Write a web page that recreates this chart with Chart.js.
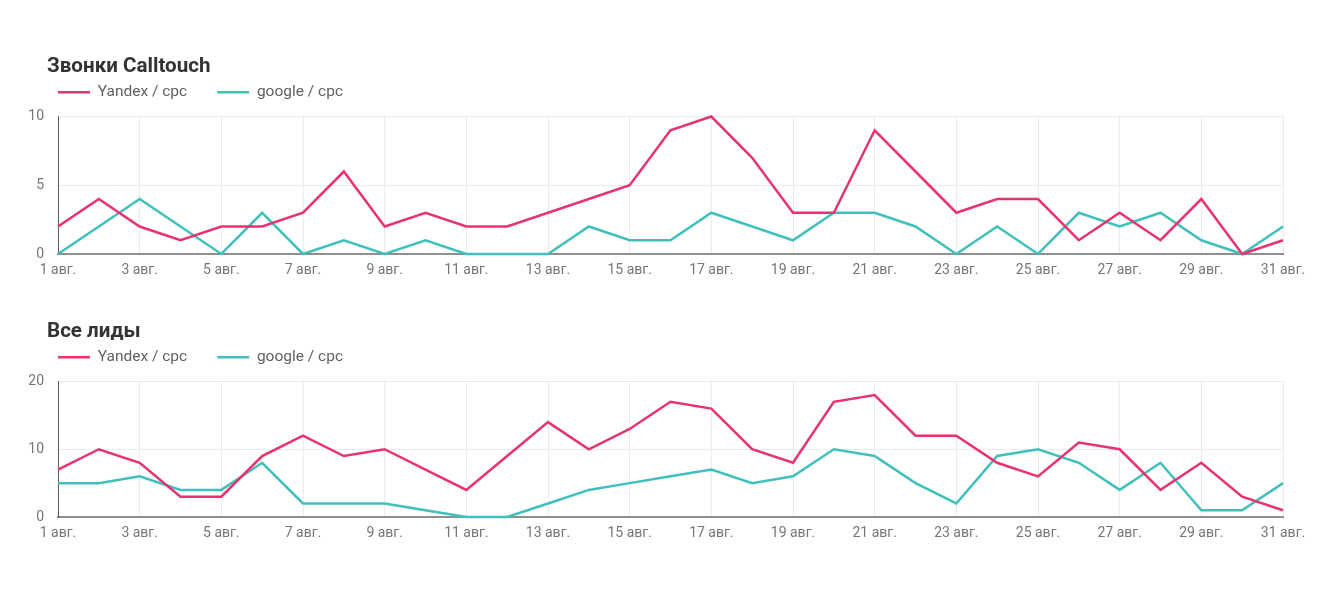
<!DOCTYPE html>
<html><head><meta charset="utf-8">
<script src="https://cdn.jsdelivr.net/npm/chart.js@4.4.0/dist/chart.umd.min.js"></script>
<style>
html,body{margin:0;padding:0;background:#fff;width:1338px;height:596px;overflow:hidden;font-family:Roboto,sans-serif}
.box{position:absolute;left:0;width:1338px}
.title{position:absolute;left:47px;font-family:Roboto;font-weight:bold;font-size:20.6px;line-height:20px;color:#333;white-space:nowrap}
</style></head><body>
<div class="box" style="top:0;height:290px"><canvas id="c1"></canvas></div>
<div class="title" style="top:55px">Звонки Calltouch</div>
<div class="box" style="top:265px;height:288px"><canvas id="c2"></canvas></div>
<div class="title" style="top:320px">Все лиды</div>
<script>
const days = ['1 авг.','2 авг.','3 авг.','4 авг.','5 авг.','6 авг.','7 авг.','8 авг.','9 авг.','10 авг.',
  '11 авг.','12 авг.','13 авг.','14 авг.','15 авг.','16 авг.','17 авг.','18 авг.','19 авг.','20 авг.',
  '21 авг.','22 авг.','23 авг.','24 авг.','25 авг.','26 авг.','27 авг.','28 авг.','29 авг.','30 авг.','31 авг.'];
const seriesNames = ['Yandex / cpc', 'google / cpc'];
const callsYandex = [2,4,2,1,2,2,3,6,2,3,2,2,3,4,5,9,10,7,3,3,9,6,3,4,4,1,3,1,4,0,1];
const callsGoogle = [0,2,4,2,0,3,0,1,0,1,0,0,0,2,1,1,3,2,1,3,3,2,0,2,0,3,2,3,1,0,2];
const leadsYandex = [7,10,8,3,3,9,12,9,10,7,4,9,14,10,13,17,16,10,8,17,18,12,12,8,6,11,10,4,8,3,1];
const leadsGoogle = [5,5,6,4,4,8,2,2,2,1,0,0,2,4,5,6,7,5,6,10,9,5,2,9,10,8,4,8,1,1,5];
const callsTicks = [0,5,10];
const leadsTicks = [0,10,20];

const PINK = '#e8336f', TEAL = '#40c0bc';
Chart.defaults.font.family = 'Roboto';

const legendGap = {
  id: 'legendGap',
  beforeInit(chart) {
    const fit = chart.legend.fit;
    chart.legend.fit = function () { fit.call(this); this.height += 6.5; };
  }
};

function makeChart(id, yVals, gVals, yTicks) {
  new Chart(document.getElementById(id), {
    type: 'line',
    data: {
      labels: days,
      datasets: [
        { label: seriesNames[0], data: yVals, borderColor: PINK, backgroundColor: PINK, borderWidth: 2.5,
          pointRadius: 0, pointHoverRadius: 0, tension: 0, clip: false },
        { label: seriesNames[1], data: gVals, borderColor: TEAL, backgroundColor: TEAL, borderWidth: 2.5,
          pointRadius: 0, pointHoverRadius: 0, tension: 0, clip: false }
      ]
    },
    options: {
      responsive: true, maintainAspectRatio: false, animation: false, devicePixelRatio: 1,
      layout: { padding: { left: 28, right: 55, top: 54.5, bottom: 3.2 } },
      plugins: {
        tooltip: { enabled: false },
        legend: {
          display: true, position: 'top', align: 'start',
          labels: { usePointStyle: true, pointStyle: 'line', pointStyleWidth: 32, boxHeight: 15,
            padding: 30, color: '#616161', font: { family: 'Roboto', size: 15.5 } }
        }
      },
      scales: {
        x: {
          offset: false,
          grid: { drawTicks: false, lineWidth: 1, color: c => (c.index % 2 === 0 && c.index > 0) ? '#ebebeb' : 'transparent' },
          border: { color: '#8f8f8f', width: 2 },
          ticks: { autoSkip: false, maxRotation: 0, padding: 8, color: '#757575', font: { size: 14 },
            callback: (v, i) => i % 2 === 0 ? days[i] : '' }
        },
        y: {
          min: yTicks[0], max: yTicks[yTicks.length - 1],
          afterFit: s => { s.width = 30; },
          afterBuildTicks: s => { s.ticks = yTicks.map(v => ({ value: v })); },
          grid: { drawTicks: false, lineWidth: 1, color: c => c.index === 0 ? 'transparent' : '#ebebeb' },
          border: { color: '#5a5a5a', width: 1 },
          ticks: { padding: 14, color: '#757575', font: { size: 14 } }
        }
      }
    },
    plugins: [legendGap]
  });
}
makeChart('c1', callsYandex, callsGoogle, callsTicks);
makeChart('c2', leadsYandex, leadsGoogle, leadsTicks);
</script>
</body></html>
